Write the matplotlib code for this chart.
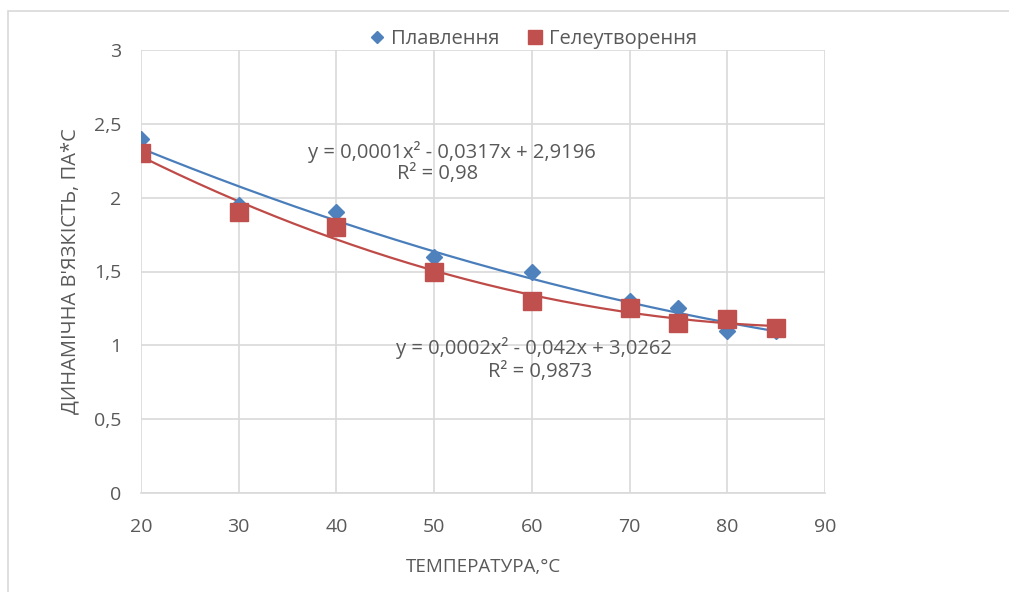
import matplotlib.pyplot as plt
import numpy as np
import matplotlib
from matplotlib.patches import Rectangle

# temperature, degC
temp = [20, 30, 40, 50, 60, 70, 75, 80, 85]
# dynamic viscosity on melting and on gel formation
melt = [2.4, 1.95, 1.9, 1.6, 1.5, 1.3, 1.25, 1.1, 1.1]
gel = [2.3, 1.9, 1.8, 1.5, 1.3, 1.25, 1.15, 1.18, 1.12]

melt_eq = ['y = 0,0001x² - 0,0317x + 2,9196', 'R² = 0,98']
gel_eq = ['y = 0,0002x² - 0,042x + 3,0262', 'R² = 0,9873']

matplotlib.rcParams['font.family'] = ['Open Sans', 'DejaVu Sans']
txt = '#595959'
grid = '#d9d9d9'

fig = plt.figure(figsize=(10.09, 5.92), dpi=100)
ax = fig.add_axes([141/1009, 1-493/592, (825-141)/1009, (493-50)/592])

# outer chart border
fig.patches.append(Rectangle((8/1009, -0.05), 1.1, 1-11/592+0.05, transform=fig.transFigure,
                             fill=False, edgecolor=grid, linewidth=1.2, clip_on=False))

x = np.array(temp, dtype=float)
xs = np.linspace(20, 85, 200)
cm = np.polyfit(x, melt, 2)
cg = np.polyfit(x, gel, 2)

ax.plot(xs, np.polyval(cm, xs), color='#4a7ebb', linewidth=1.6, zorder=3)
ax.plot(xs, np.polyval(cg, xs), color='#be4b48', linewidth=1.6, zorder=3)
ax.plot(temp, melt, linestyle='none', marker='D', markersize=8.5, color='#4f81bd',
        label='Плавлення', zorder=4)
ax.plot(temp, gel, linestyle='none', marker='s', markersize=12.5, color='#c0504d',
        label='Гелеутворення', zorder=5)

ax.set_xlim(20, 90)
ax.set_ylim(0, 3)
ax.set_xticks(range(20, 91, 10))
ax.set_yticks([0, 0.5, 1, 1.5, 2, 2.5, 3])
ax.set_yticklabels(['0', '0,5', '1', '1,5', '2', '2,5', '3'])
ax.grid(True, color=grid, linewidth=1.2)
ax.set_axisbelow(True)
for s in ['left', 'right', 'top']:
    ax.spines[s].set_visible(False)
ax.spines['bottom'].set_color(grid)
ax.spines['bottom'].set_linewidth(1.2)
ax.tick_params(axis='both', length=0, labelsize=14, colors=txt)
ax.tick_params(axis='x', pad=18)
ax.tick_params(axis='y', pad=14)

ax.set_xlabel('ТЕМПЕРАТУРА,°С', fontsize=13.5, color=txt, labelpad=16)
ax.set_ylabel("ДИНАМІЧНА В'ЯЗКІСТЬ, ПА*С", fontsize=14.5, color=txt, labelpad=10)

# trendline equations, one text per line
ax.text(51.8, 2.31, melt_eq[0], ha='center', va='center', fontsize=14.5, color=txt)
ax.text(50.3, 2.16, melt_eq[1], ha='center', va='center', fontsize=14.5, color=txt)
ax.text(60.2, 0.98, gel_eq[0], ha='center', va='center', fontsize=14.5, color=txt)
ax.text(60.8, 0.82, gel_eq[1], ha='center', va='center', fontsize=14.5, color=txt)

leg = ax.legend(loc='center', bbox_to_anchor=(0.573, 1.025), ncol=2, frameon=False,
                fontsize=14.5, handlelength=0.8, handletextpad=0.3, columnspacing=1.4,
                markerscale=0.75, borderaxespad=0, borderpad=0)
for t in leg.get_texts():
    t.set_color(txt)

plt.savefig('out.png', dpi=100)
